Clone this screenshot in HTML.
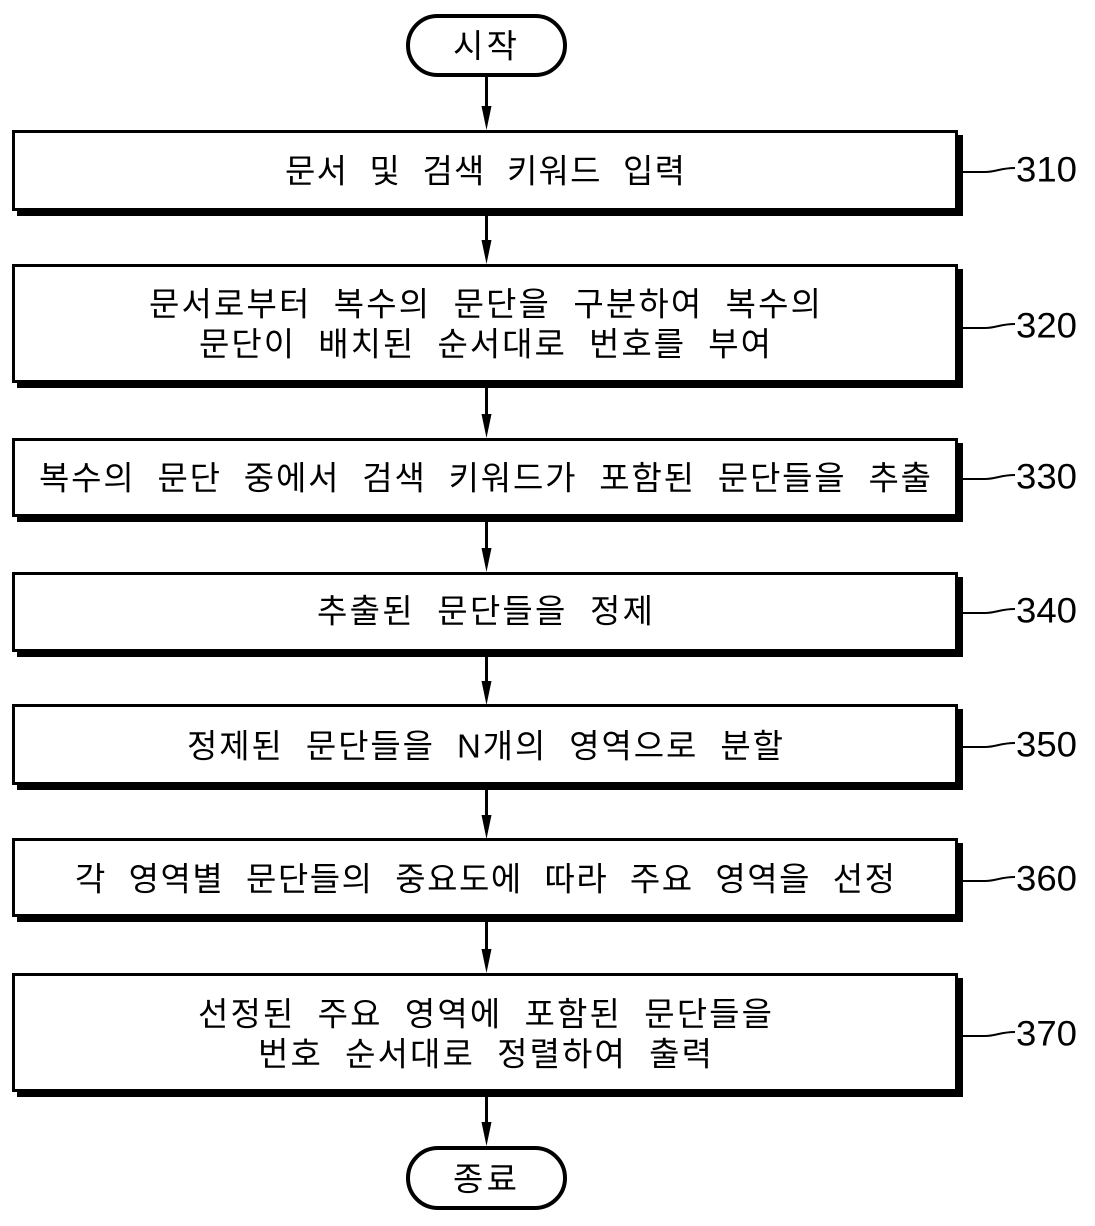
<!DOCTYPE html>
<html>
<head>
<meta charset="utf-8">
<style>
  html, body { margin:0; padding:0; background:#fff; }
  body { width:1095px; height:1226px; overflow:hidden; }
  svg { display:block; }
  .t { font-family: "Liberation Sans", "Noto Sans CJK KR", sans-serif; font-size:33px; fill:#000; word-spacing:11px; }
  .n { font-family: "Liberation Sans", sans-serif; font-size:35px; fill:#000; }
</style>
</head>
<body>
<svg width="1095" height="1226" viewBox="0 0 1095 1226" xmlns="http://www.w3.org/2000/svg">
  <!-- Start terminal -->
  <rect x="408" y="16" width="157" height="59" rx="29.5" ry="29.5" fill="#fff" stroke="#000" stroke-width="4"/>
  <text class="t" x="485" y="46" text-anchor="middle" dominant-baseline="central" textLength="64" lengthAdjust="spacing">시작</text>

  <!-- Arrow start -> 310 -->
  <rect x="485" y="77" width="3" height="32" fill="#000"/>
  <polygon points="481.5,106 491.5,106 486.5,130" fill="#000"/>

  <!-- Box 310 -->
  <rect x="17" y="135" width="946" height="81" fill="#000"/>
  <rect x="13.5" y="131.5" width="943" height="78" fill="#fff" stroke="#000" stroke-width="3"/>
  <text class="t" x="485" y="171" text-anchor="middle" dominant-baseline="central" textLength="400" lengthAdjust="spacing">문서 및 검색 키워드 입력</text>
  <path d="M963,172 L985,172 C996,172 1000,168 1015,168" fill="none" stroke="#000" stroke-width="2"/>
  <text class="n" x="1016" y="170" dominant-baseline="central" textLength="61" lengthAdjust="spacingAndGlyphs">310</text>

  <!-- Arrow 310 -> 320 -->
  <rect x="485" y="216" width="3" height="27" fill="#000"/>
  <polygon points="481.5,240 491.5,240 486.5,264" fill="#000"/>

  <!-- Box 320 -->
  <rect x="17" y="269" width="946" height="119" fill="#000"/>
  <rect x="13.5" y="265.5" width="943" height="116" fill="#fff" stroke="#000" stroke-width="3"/>
  <text class="t" x="485" y="304" text-anchor="middle" dominant-baseline="central" textLength="672" lengthAdjust="spacing">문서로부터 복수의 문단을 구분하여 복수의</text>
  <text class="t" x="485" y="344" text-anchor="middle" dominant-baseline="central" textLength="572" lengthAdjust="spacing">문단이 배치된 순서대로 번호를 부여</text>
  <path d="M963,328 L985,328 C996,328 1000,324 1015,324" fill="none" stroke="#000" stroke-width="2"/>
  <text class="n" x="1016" y="326" dominant-baseline="central" textLength="61" lengthAdjust="spacingAndGlyphs">320</text>

  <!-- Arrow 320 -> 330 -->
  <rect x="485" y="388" width="3" height="28" fill="#000"/>
  <polygon points="481.5,414 491.5,414 486.5,438" fill="#000"/>

  <!-- Box 330 -->
  <rect x="17" y="443" width="946" height="79" fill="#000"/>
  <rect x="13.5" y="439.5" width="943" height="76" fill="#fff" stroke="#000" stroke-width="3"/>
  <text class="t" x="485" y="478" text-anchor="middle" dominant-baseline="central" textLength="892" lengthAdjust="spacing">복수의 문단 중에서 검색 키워드가 포함된 문단들을 추출</text>
  <path d="M963,479 L985,479 C996,479 1000,475 1015,475" fill="none" stroke="#000" stroke-width="2"/>
  <text class="n" x="1016" y="477" dominant-baseline="central" textLength="61" lengthAdjust="spacingAndGlyphs">330</text>

  <!-- Arrow 330 -> 340 -->
  <rect x="485" y="522" width="3" height="28" fill="#000"/>
  <polygon points="481.5,548 491.5,548 486.5,572" fill="#000"/>

  <!-- Box 340 -->
  <rect x="17" y="577" width="946" height="80" fill="#000"/>
  <rect x="13.5" y="573.5" width="943" height="77" fill="#fff" stroke="#000" stroke-width="3"/>
  <text class="t" x="485" y="611" text-anchor="middle" dominant-baseline="central" textLength="336" lengthAdjust="spacing">추출된 문단들을 정제</text>
  <path d="M963,613 L985,613 C996,613 1000,609 1015,609" fill="none" stroke="#000" stroke-width="2"/>
  <text class="n" x="1016" y="611" dominant-baseline="central" textLength="61" lengthAdjust="spacingAndGlyphs">340</text>

  <!-- Arrow 340 -> 350 -->
  <rect x="485" y="657" width="3" height="26" fill="#000"/>
  <polygon points="481.5,681 491.5,681 486.5,705" fill="#000"/>

  <!-- Box 350 -->
  <rect x="17" y="709" width="946" height="81" fill="#000"/>
  <rect x="13.5" y="705.5" width="943" height="78" fill="#fff" stroke="#000" stroke-width="3"/>
  <text class="t" x="485" y="746" text-anchor="middle" dominant-baseline="central" textLength="596" lengthAdjust="spacing">정제된 문단들을 N개의 영역으로 분할</text>
  <path d="M963,747 L985,747 C996,747 1000,743 1015,743" fill="none" stroke="#000" stroke-width="2"/>
  <text class="n" x="1016" y="745" dominant-baseline="central" textLength="61" lengthAdjust="spacingAndGlyphs">350</text>

  <!-- Arrow 350 -> 360 -->
  <rect x="485" y="790" width="3" height="27" fill="#000"/>
  <polygon points="481.5,815 491.5,815 486.5,839" fill="#000"/>

  <!-- Box 360 -->
  <rect x="17" y="843" width="946" height="79" fill="#000"/>
  <rect x="13.5" y="839.5" width="943" height="76" fill="#fff" stroke="#000" stroke-width="3"/>
  <text class="t" x="485" y="879" text-anchor="middle" dominant-baseline="central" textLength="820" lengthAdjust="spacing">각 영역별 문단들의 중요도에 따라 주요 영역을 선정</text>
  <path d="M963,881 L985,881 C996,881 1000,877 1015,877" fill="none" stroke="#000" stroke-width="2"/>
  <text class="n" x="1016" y="879" dominant-baseline="central" textLength="61" lengthAdjust="spacingAndGlyphs">360</text>

  <!-- Arrow 360 -> 370 -->
  <rect x="485" y="922" width="3" height="29" fill="#000"/>
  <polygon points="481.5,949 491.5,949 486.5,973" fill="#000"/>

  <!-- Box 370 -->
  <rect x="17" y="978" width="946" height="119" fill="#000"/>
  <rect x="13.5" y="974.5" width="943" height="116" fill="#fff" stroke="#000" stroke-width="3"/>
  <text class="t" x="485" y="1014" text-anchor="middle" dominant-baseline="central" textLength="574" lengthAdjust="spacing">선정된 주요 영역에 포함된 문단들을</text>
  <text class="t" x="485" y="1054" text-anchor="middle" dominant-baseline="central" textLength="454" lengthAdjust="spacing">번호 순서대로 정렬하여 출력</text>
  <path d="M963,1036 L985,1036 C996,1036 1000,1032 1015,1032" fill="none" stroke="#000" stroke-width="2"/>
  <text class="n" x="1016" y="1034" dominant-baseline="central" textLength="61" lengthAdjust="spacingAndGlyphs">370</text>

  <!-- Arrow 370 -> end -->
  <rect x="485" y="1097" width="3" height="27" fill="#000"/>
  <polygon points="481.5,1122 491.5,1122 486.5,1146" fill="#000"/>

  <!-- End terminal -->
  <rect x="408" y="1148" width="157" height="60" rx="30" ry="30" fill="#fff" stroke="#000" stroke-width="4"/>
  <text class="t" x="485" y="1179" text-anchor="middle" dominant-baseline="central" textLength="64" lengthAdjust="spacing">종료</text>
</svg>
</body>
</html>
